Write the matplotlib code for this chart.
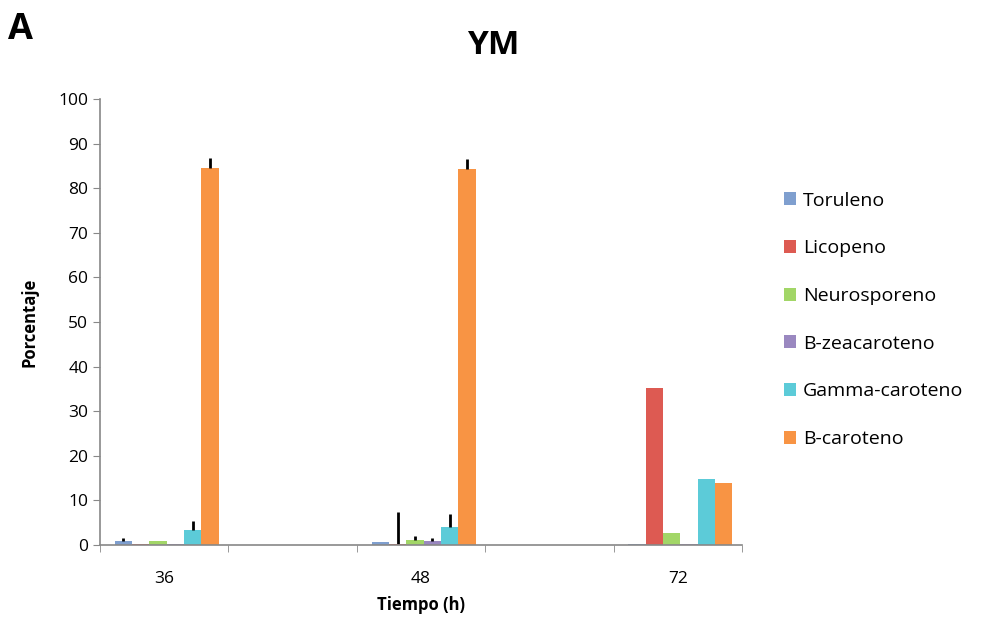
import numpy as np
import matplotlib.pyplot as plt

plt.rcParams['font.family'] = ['Open Sans', 'DejaVu Sans']

# data
tiempos = ['36', '', '48', '', '72']
series = ['Toruleno', 'Licopeno', 'Neurosporeno', 'B-zeacaroteno',
          'Gamma-caroteno', 'B-caroteno']
toruleno = [0.9, 0, 0.7, 0, 0.2]
licopeno = [0.2, 0, 0.2, 0, 35.2]
neurosporeno = [0.8, 0, 1.2, 0, 2.6]
b_zeacaroteno = [0.3, 0, 0.8, 0, 0.3]
gamma_caroteno = [3.3, 0, 4.0, 0, 14.8]
b_caroteno = [84.6, 0, 84.2, 0, 14.0]
err_toruleno = [0.6, 0, 0, 0, 0]
err_licopeno = [0, 0, 7.2, 0, 0]
err_neurosporeno = [0, 0, 0.9, 0, 0]
err_b_zeacaroteno = [0, 0, 0.7, 0, 0]
err_gamma_caroteno = [2.0, 0, 3.0, 0, 0]
err_b_caroteno = [2.2, 0, 2.3, 0, 0]

valores = [toruleno, licopeno, neurosporeno, b_zeacaroteno, gamma_caroteno, b_caroteno]
errores = [err_toruleno, err_licopeno, err_neurosporeno, err_b_zeacaroteno,
           err_gamma_caroteno, err_b_caroteno]
colores = ['#7f9fcf', '#dd5a52', '#a2d667', '#9a88c0', '#5ccbd8', '#f89444']

fig = plt.figure(figsize=(9.82, 6.19), dpi=100)
ax = fig.add_axes([100/982, 1 - 545/619, 642/982, 446/619])

x = np.arange(len(tiempos))
w = 0.135
for i, (nombre, vals, errs, c) in enumerate(zip(series, valores, errores, colores)):
    pos = x + (i - 2.5) * w + 0.02
    ax.bar(pos, vals, w, color=c, label=nombre)
    errs = np.array(errs)
    m = errs > 0
    ax.errorbar(pos[m], np.array(vals)[m], yerr=[np.zeros(m.sum()), errs[m]],
                fmt='none', ecolor='black', elinewidth=2, capsize=0)

ax.set_xlim(-0.5, 4.5)
ax.set_ylim(0, 100)
ax.set_yticks(range(0, 101, 10))
ax.set_xticks([0, 2, 4])
ax.set_xticklabels(['36', '48', '72'])
ax.set_xticks(np.arange(-0.5, 5, 1), minor=True)
ax.tick_params(axis='x', which='major', length=0, pad=19, labelsize=12.5)
ax.tick_params(axis='x', which='minor', length=5, color='#888888')
ax.tick_params(axis='y', length=5, color='#888888', labelsize=12.5)
for s in ['top', 'right']:
    ax.spines[s].set_visible(False)
for s in ['left', 'bottom']:
    ax.spines[s].set_color('#888888')
    ax.spines[s].set_linewidth(1.2)

ax.set_xlabel('Tiempo (h)', fontsize=12, fontweight='bold', labelpad=6)
ax.set_ylabel('Porcentaje', fontsize=12, fontweight='bold', labelpad=14)
fig.text(493/982, 1 - 45/619, 'YM', fontsize=24, fontweight='bold', ha='center', va='center')
fig.text(8/982, 1 - 30/619, 'A', fontsize=26, fontweight='bold', ha='left', va='center')

ax.legend(loc='upper left', bbox_to_anchor=(766/982, 1 - 174/619),
          bbox_transform=fig.transFigure, frameon=False, fontsize=14,
          handlelength=0.65, handleheight=0.65, handletextpad=0.35, labelspacing=1.53)

plt.savefig('out.png', dpi=100)
